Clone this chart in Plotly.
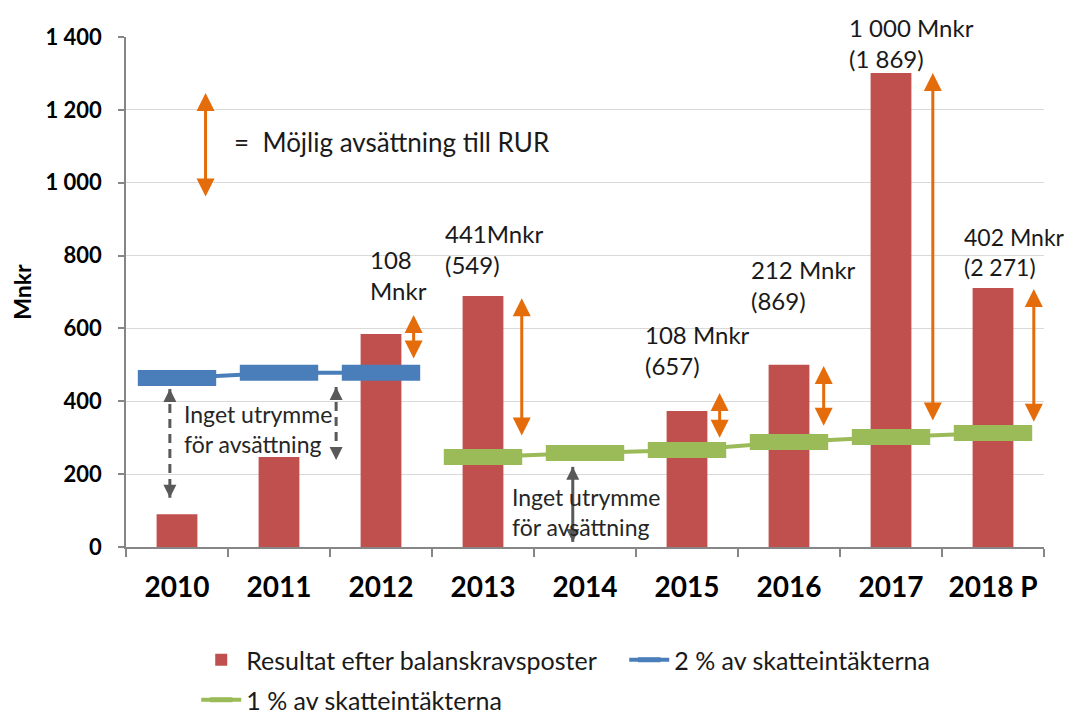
import plotly.graph_objects as go

# ---------------- data ----------------
categories = ["2010", "2011", "2012", "2013", "2014", "2015", "2016", "2017", "2018 P"]
resultat = [90, 247, 585, 689, None, 373, 500, 1301, 711]
two_pct = [464, 478, 478, None, None, None, None, None, None]
one_pct = [None, None, None, 247, 258, 266, 288, 302, 313]

y_ticks = [0, 200, 400, 600, 800, 1000, 1200, 1400]
y_tick_labels = ["0", "200", "400", "600", "800", "1 000", "1 200", "1 400"]

# orange "possible allocation" arrows (category index, top value, bottom value)
rur_idx = [2, 3, 5, 6, 7, 8]
rur_top = [637, 683, 423, 497, 1301, 708]
rur_bottom = [513, 302, 296, 329, 343, 340]

# value labels
label_idx = [2, 3, 5, 6, 7, 8]
label_texts = ["108<br>Mnkr", "441Mnkr<br>(549)", "108 Mnkr<br>(657)",
               "212 Mnkr<br>(869)", "1 000 Mnkr<br>(1 869)", "402 Mnkr<br>(2 271)"]
label_y = [747, 818, 541, 719, 1383, 810]

# grey "no room" arrows
grey_idx = [0, 2, 4]
grey_top = [434, 439, 220]
grey_bottom = [135, 239, 14]

legend_arrow = [958, 1246]
no_room_text = "Inget utrymme<br>för avsättning"
no_room_y = [324, 96]

# ---------------- styling / positions ----------------
RED = "#C0504D"
BLUE = "#4A7EBB"
GREEN = "#9BBB59"
ORANGE = "#E46C0A"
GREY = "#595959"
TXT = "#1a1a1a"
FONT = "Lato"

rur_off = [0.32, 0.38, 0.32, 0.34, 0.41, 0.40]
label_off = [-0.13, -0.39, -0.43, -0.39, -0.43, -0.30]
label_size = [24, 24, 24, 24, 24, 23]
grey_off = [-0.07, -0.44, -0.12]
no_room_x = [0.05, 3.26]

fig = go.Figure()

fig.add_trace(go.Bar(
    x=categories, y=resultat, name="Resultat efter balanskravsposter",
    marker=dict(color=RED, line=dict(width=0)), legend="legend",
))

fig.add_trace(go.Scatter(
    x=categories, y=two_pct, name="2 % av skatteintäkterna", mode="lines+markers",
    line=dict(color=BLUE, width=4),
    marker=dict(symbol="line-ew", size=56, line=dict(color=BLUE, width=16)),
    legend="legend",
))

fig.add_trace(go.Scatter(
    x=categories, y=one_pct, name="1 % av skatteintäkterna", mode="lines+markers",
    line=dict(color=GREEN, width=4),
    marker=dict(symbol="line-ew", size=56, line=dict(color=GREEN, width=16)),
    legend="legend2",
))

# grey arrows
for i, (ci, t, b) in enumerate(zip(grey_idx, grey_top, grey_bottom)):
    xx = ci + grey_off[i]
    fig.add_trace(go.Scatter(
        x=[xx, xx], y=[t, b], xaxis="x2", mode="lines+markers",
        line=dict(color=GREY, width=3, dash="solid" if i == 2 else "9px,6px"),
        marker=dict(symbol=["arrow-up", "arrow-down"], size=13, color=GREY),
        showlegend=False, hoverinfo="skip",
    ))

annotations = []
# orange double arrows
for ci, t, b, off in zip(rur_idx, rur_top, rur_bottom, rur_off):
    xx = ci + off
    annotations.append(dict(
        x=xx, y=t, ax=xx, ay=b, xref="x2", yref="y", axref="x2", ayref="y",
        text="", showarrow=True, arrowhead=2, arrowside="end+start",
        arrowsize=1.2, arrowwidth=3, arrowcolor=ORANGE,
    ))
# legend-like orange arrow
annotations.append(dict(
    x=0.28, y=legend_arrow[1], ax=0.28, ay=legend_arrow[0], xref="x2", yref="y",
    axref="x2", ayref="y", text="", showarrow=True, arrowhead=2,
    arrowside="end+start", arrowsize=1.2, arrowwidth=3, arrowcolor=ORANGE,
))
annotations.append(dict(
    x=0.54, y=1112, xref="x2", yref="y", text="=  Möjlig avsättning till RUR",
    showarrow=False, xanchor="left", yanchor="middle",
    font=dict(family=FONT, size=26, color=TXT),
))
# value labels
for ci, txt, yy, off, sz in zip(label_idx, label_texts, label_y, label_off, label_size):
    annotations.append(dict(
        x=ci + off, y=yy, xref="x2", yref="y", text=txt, showarrow=False,
        xanchor="left", yanchor="middle", align="left",
        font=dict(family=FONT, size=sz, color=TXT),
    ))
# no room texts
for xx, yy in zip(no_room_x, no_room_y):
    annotations.append(dict(
        x=xx, y=yy, xref="x2", yref="y", text=no_room_text, showarrow=False,
        xanchor="left", yanchor="middle", align="left",
        font=dict(family=FONT, size=23, color="#262626"),
    ))

# the page has an 8px body margin: size the figure so that it fills the window
fig.update_layout(
    width=1069, height=710,
    margin=dict(l=118, r=33, t=29, b=171, autoexpand=False),
    plot_bgcolor="white", paper_bgcolor="white",
    font=dict(family=FONT, color=TXT),
    bargap=0.6,
    showlegend=True,
    xaxis=dict(
        type="category", categoryorder="array", categoryarray=categories,
        range=[-0.5, 8.5], tickson="boundaries", ticks="outside", ticklen=8,
        tickcolor="#868686", tickwidth=1.5, showline=True, linecolor="#868686",
        linewidth=1.5, showgrid=False, ticklabelstandoff=15, automargin=False,
        tickfont=dict(family=FONT, size=28, color="black", weight="bold"),
    ),
    xaxis2=dict(overlaying="x", range=[-0.5, 8.5], visible=False, anchor="y",
                automargin=False),
    yaxis=dict(
        range=[0, 1400], tickvals=y_ticks, ticktext=y_tick_labels,
        ticks="outside", ticklen=6, tickcolor="#868686", tickwidth=1.5,
        showline=True, linecolor="#868686", linewidth=1.5,
        gridcolor="#D9D9D9", gridwidth=1.3, zeroline=False,
        ticklabelstandoff=12, automargin=False,
        tickfont=dict(family=FONT, size=22, color="black", weight="bold"),
        title=dict(text="Mnkr", standoff=20,
                   font=dict(family=FONT, size=23, color="black", weight="bold")),
    ),
    legend=dict(
        orientation="h", x=0.0765, xanchor="left", y=-0.2216, yanchor="middle",
        font=dict(family=FONT, size=25, color=TXT), itemwidth=40,
        entrywidth=373, bgcolor="rgba(0,0,0,0)",
    ),
    legend2=dict(
        orientation="h", x=0.0765, xanchor="left", y=-0.30, yanchor="middle",
        font=dict(family=FONT, size=25, color=TXT), itemwidth=40,
        bgcolor="rgba(0,0,0,0)",
    ),
    annotations=annotations,
)

fig.write_html("out.html")
